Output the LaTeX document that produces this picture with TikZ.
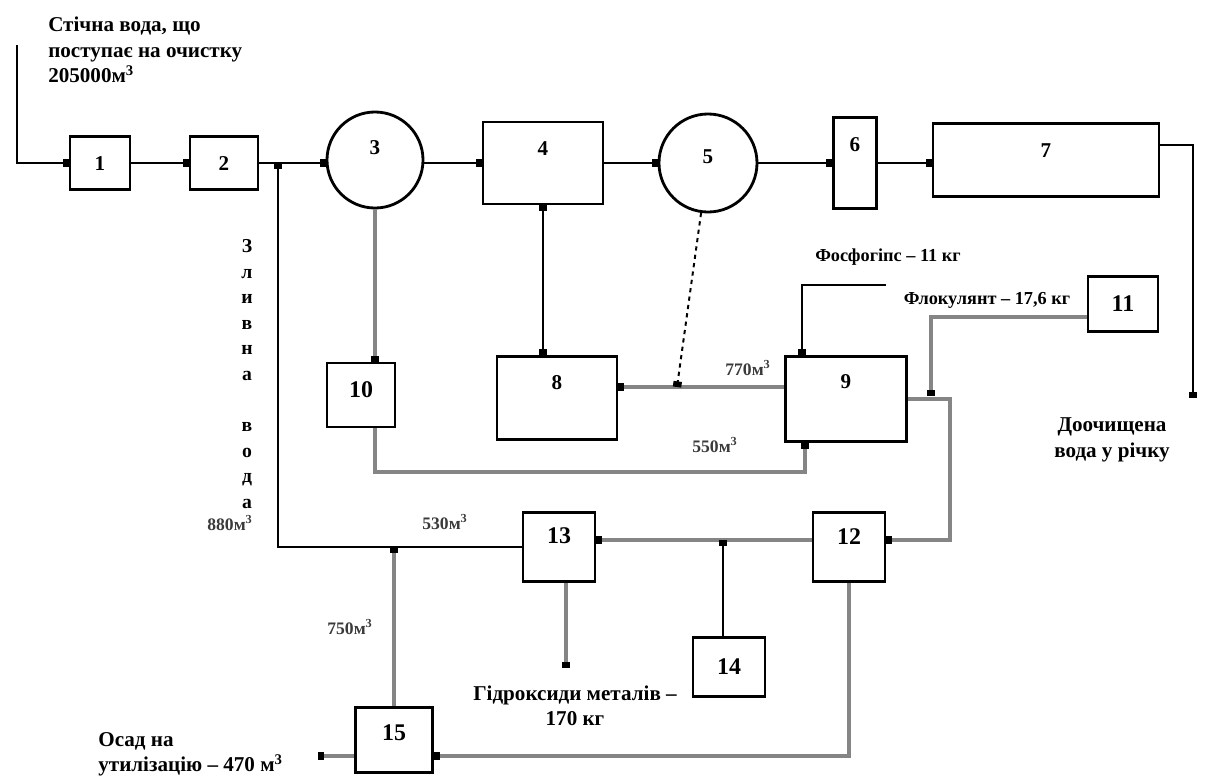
\documentclass[tikz,border=0pt]{standalone}
\usepackage{fontspec}
\setmainfont{Liberation Serif}
\usepackage{tikz}
\usetikzlibrary{arrows.meta,positioning,calc}
\definecolor{pipegrey}{HTML}{858585}
\definecolor{volgrey}{HTML}{3A3A3A}
\tikzset{
  unitbox/.style={
    draw=black,
    fill=white,
    line width=2pt,
    inner sep=0pt,
    text height=10pt,
    font=\fontsize{17}{20}\selectfont\bfseries
  },
  topunit/.style={
    unitbox,
    font=\fontsize{15}{18}\selectfont\bfseries
  },
  tankcirc/.style={
    topunit,
    circle
  },
  flow/.style={
    -{Square[length=4pt,width=6pt]},
    line width=1.4pt,
    draw=black
  },
  greyflow/.style={
    -{Square[length=4pt,width=6pt,color=black]},
    line width=2.2pt,
    draw=pipegrey
  },
  twoway/.style={
    {Square[length=4pt,width=6pt]}-{Square[length=4pt,width=6pt]},
    line width=1.4pt,
    draw=black
  },
  note/.style={
    font=\fontsize{15}{18}\selectfont\bfseries,
    align=left,
    inner sep=0pt
  },
  volume/.style={
    font=\fontsize{12.5}{14}\selectfont\bfseries,
    text=volgrey,
    inner sep=0pt
  }
}

\begin{document}
\begin{tikzpicture}[x=0.025cm,y=-0.025cm]
\useasboundingbox (0,0) rectangle (1211,777);

% treatment line
\node[topunit, minimum width=1.5cm, minimum height=1.33cm] (u1) at (100,163) {1};
\node[topunit, minimum width=1.7cm, minimum height=1.33cm] (u2) at (224,163) {2};
\node[tankcirc, minimum size=2.4cm, text depth=18pt] (u3) at (375,160) {3};
\node[topunit, minimum width=3cm, minimum height=2.05cm, text depth=21pt] (u4) at (543,163) {4};
\node[tankcirc, minimum size=2.45cm, text depth=10pt] (u5) at (708,163) {5};
\node[topunit, minimum width=1.075cm, minimum height=2.275cm, text depth=26pt] (u6) at (855,163) {6};
\node[topunit, minimum width=5.65cm, minimum height=1.825cm, text depth=13pt] (u7) at (1046,160) {7};

% sludge and reagents
\node[topunit, minimum width=3cm, minimum height=2.075cm, text depth=22pt] (u8) at (557,398) {8};
\node[topunit, minimum width=3.025cm, minimum height=2.125cm, text depth=25pt] (u9) at (846,399) {9};
\node[unitbox, minimum width=1.7cm, minimum height=1.6cm, text depth=7pt] (u10) at (361,395) {10};
\node[unitbox, minimum width=1.75cm, minimum height=1.375cm] (u11) at (1123,304) {11};
\node[unitbox, minimum width=1.8cm, minimum height=1.725cm, text depth=13pt] (u12) at (849,547) {12};
\node[unitbox, minimum width=1.8cm, minimum height=1.725cm, text depth=15pt] (u13) at (559,547) {13};
\node[unitbox, minimum width=1.8cm, minimum height=1.475cm] (u14) at (729,667) {14};
\node[unitbox, minimum width=1.925cm, minimum height=1.625cm, text depth=10pt] (u15) at (394,740) {15};

% texts
\node[note, anchor=west] (inflow) at (48,50) {Стічна вода, що\\поступає на очистку\\205000м\textsuperscript{3}};
\node[note, align=center] (river) at (1112,440) {Доочищена\\вода у річку};
\node[note, align=center, font=\fontsize{14}{18.2}\selectfont\bfseries] (drain) at (247,374) {З\\л\\и\\в\\н\\а\\[18.2pt]в\\о\\д\\а};
\node[note, font=\fontsize{13}{15}\selectfont\bfseries] (phos) at (888,257) {Фосфогіпс – 11 кг};
\node[note, font=\fontsize{13}{15}\selectfont\bfseries] (floc) at (987,300) {Флокулянт – 17,6 кг};
\node[note, align=center] (hydrox) at (575,706) {Гідроксиди металів –\\170 кг};
\node[note, anchor=east] (sedtext) at (283,754) {Осад на\\утилізацію – 470 м\textsuperscript{3}};
\node[volume] (v880) at (230,523) {880м\textsuperscript{3}};
\node[volume] (v530) at (445,522) {530м\textsuperscript{3}};
\node[volume] (v750) at (350,627) {750м\textsuperscript{3}};
\node[volume] (v770) at (748,368) {770м\textsuperscript{3}};
\node[volume] (v550) at (715,445) {550м\textsuperscript{3}};

% free ends
\coordinate (feed) at (17,45);
\coordinate (outlet) at (1193,398);
\coordinate (ret) at (278,163);
\coordinate (loop9) at (805,472);
\coordinate (line98) at ($(u9.west)+(0,-12)$);
\coordinate (sludge) at (677,387);
\coordinate (phosline) at (886,285);
\coordinate (flocend) at (931,396);
\coordinate (turn12) at (950,540);
\coordinate (j14) at (723,540);
\coordinate (hydro) at (566,668);
\coordinate (sediment) at (318,756);

% water flow
\draw[flow] (feed) |- (u1);
\draw[flow] (u1) -- (u2);
\draw[flow] (u2) -- (u3.west |- u2);
\draw[flow] (u3.east |- u4) -- (u4);
\draw[flow] (u4) -- (u5);
\draw[flow] (u5) -- (u6);
\draw[flow] (u6) -- (u6 -| u7.west);
\draw[flow] ($(u7.north east)!0.3!(u7.south east)$) -| (outlet);

% sludge
\draw[greyflow] (u3) -- (u3 |- u10.north);
\draw[greyflow] (u10.south -| u3) |- (loop9) -- (loop9 |- u9.south);
\draw[twoway] (u4) -- (u4 |- u8.north);
\draw[greyflow] (line98) -- (line98 -| u8.east);
\draw[flow, dashed] (u5) -- (sludge);
\draw[flow] (phosline) -| ($(u9.north west)+(18,0)$);
\draw[greyflow] ($(u11.west)+(0,13)$) -| (flocend);
\draw[greyflow] (u9) -| (turn12) -- (turn12 -| u12.east);
\draw[greyflow] (u12.west |- j14) -- (u13.east |- j14);
\draw[flow] (j14 |- u14.north) -- (j14);
\draw[greyflow] (u13.south -| hydro) -- (hydro);
\draw[greyflow] (u12) |- ($(u15.east)+(0,16)$);
\draw[greyflow] ($(u15.west)+(0,16)$) -- (sediment);
\draw[greyflow] (u15) -- (u15 |- u13);

% return water
\draw[flow] (u13) -| (ret);
\end{tikzpicture}
\end{document}
